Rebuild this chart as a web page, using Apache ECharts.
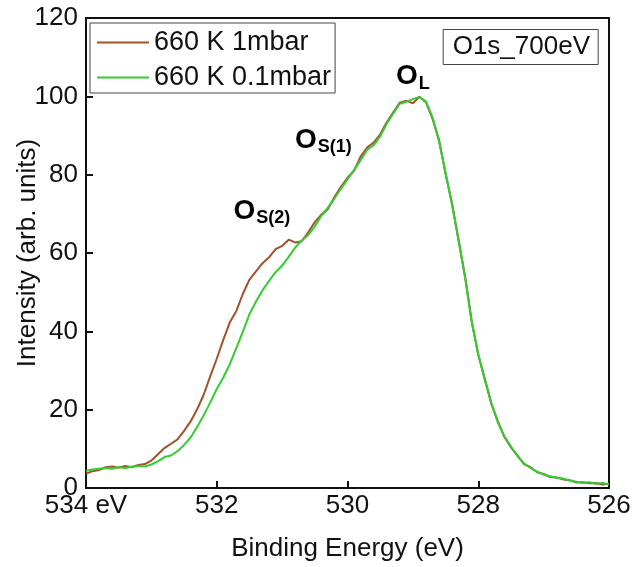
<!DOCTYPE html>
<html>
<head>
<meta charset="utf-8">
<script src="https://cdn.jsdelivr.net/npm/echarts@6/dist/echarts.min.js"></script>
<style>html,body{margin:0;padding:0;background:#fff}#c{width:633px;height:567px}</style>
</head>
<body>
<div id="c"></div>
<script>
// Binding energy (eV)
const energy = [534.0,533.9,533.8,533.7,533.6,533.5,533.4,533.3,533.2,533.1,
  533.0,532.9,532.8,532.7,532.6,532.5,532.4,532.3,532.2,532.1,
  532.0,531.9,531.8,531.7,531.6,531.5,531.4,531.3,531.2,531.1,
  531.0,530.9,530.8,530.7,530.6,530.5,530.4,530.3,530.2,530.1,
  530.0,529.9,529.8,529.7,529.6,529.5,529.4,529.3,529.2,529.1,
  529.0,528.9,528.8,528.7,528.6,528.5,528.4,528.3,528.2,528.1,
  528.0,527.9,527.8,527.7,527.6,527.5,527.4,527.3,527.2,527.1,
  527.0,526.9,526.8,526.7,526.6,526.5,526.4,526.3,526.2,526.1,526.0];

// 660 K 1mbar
const int1mbar = [3.6,4.3,4.6,5.3,5.5,5.2,5.6,5.3,5.9,6.1,
  7.0,8.6,10.2,11.3,12.4,14.6,17.0,20.1,23.8,28.5,
  33.0,37.8,42.3,45.2,49.6,53.2,55.3,57.4,58.9,61.0,
  61.8,63.4,62.7,63.0,65.3,67.9,69.8,71.2,74.3,76.9,
  79.2,81.0,84.6,86.9,88.2,90.3,93.4,95.9,98.4,98.9,
  98.2,99.9,98.5,94.3,88.9,80.2,72.6,63.0,53.9,42.6,
  34.0,27.9,21.5,17.1,13.0,10.4,8.3,6.1,5.3,4.0,
  3.6,2.8,2.7,2.2,2.0,1.4,1.5,1.2,1.3,0.9,1.1];

// 660 K 0.1mbar
const int01mbar = [4.4,4.7,4.9,5.1,4.9,5.3,5.1,5.4,5.6,5.5,
  6.0,6.8,7.9,8.3,9.4,11.0,12.9,15.6,18.6,21.8,
  25.3,28.2,31.6,35.8,39.9,44.4,47.6,50.5,52.9,55.1,
  56.8,59.0,61.4,63.2,64.6,66.8,69.5,71.6,73.9,76.4,
  78.8,81.2,83.7,86.3,87.5,89.8,93.0,95.6,98.1,98.6,
  99.3,99.8,98.7,94.6,88.5,80.5,72.2,63.4,53.5,42.3,
  34.2,27.6,21.8,16.7,13.2,10.6,8.1,6.3,5.1,4.2,
  3.4,3.0,2.6,2.4,1.9,1.6,1.3,1.5,1.1,1.3,0.9];

const seriesNames = ['660 K 1mbar', '660 K 0.1mbar'];
const xTicks = [526, 528, 530, 532, 534];
const yTicks = [0, 20, 40, 60, 80, 100, 120];

// peak annotations
const annoEnergy = [529.0, 530.37, 531.31];
const annoIntensity = [105.0, 88.9, 70.7];
const annoMain = ['O', 'O', 'O'];
const annoSub = ['L', 'S(1)', 'S(2)'];
const boxLabel = 'O1s_700eV';

const FONT = 'Liberation Sans, Arial, sans-serif';
const chart = echarts.init(document.getElementById('c'), null, {renderer: 'canvas'});

const pair = (ys) => energy.map((e, i) => [e, ys[i]]);

chart.setOption({
  animation: false,
  backgroundColor: '#fff',
  textStyle: {fontFamily: FONT},
  title: {
    text: boxLabel,
    right: 35, top: 29,
    borderColor: '#444', borderWidth: 1,
    padding: [5, 8, 5, 10],
    textStyle: {fontSize: 26, fontWeight: 'normal', color: '#111', fontFamily: FONT, lineHeight: 26}
  },
  legend: {
    orient: 'vertical',
    left: 90, top: 23,
    icon: 'rect',
    itemWidth: 52, itemHeight: 2, itemGap: 8,
    padding: [6, 4, 2, 7],
    borderColor: '#444', borderWidth: 1,
    textStyle: {fontSize: 27, color: '#111', lineHeight: 27, fontFamily: FONT},
    data: seriesNames
  },
  grid: {
    left: 86, right: 24, top: 18, bottom: 79,
    outerBoundsMode: 'none',
    show: true, borderColor: '#111', borderWidth: 2, backgroundColor: 'transparent'
  },
  xAxis: {
    type: 'value', min: xTicks[0], max: xTicks[xTicks.length - 1], interval: 2, inverse: true,
    name: 'Binding Energy (eV)', nameLocation: 'middle', nameGap: 48, nameMoveOverlap: false,
    nameTextStyle: {fontSize: 26, color: '#111', fontFamily: FONT},
    axisLine: {show: true, onZero: false, lineStyle: {color: '#111', width: 2}},
    axisTick: {show: true, inside: true, length: 7, lineStyle: {color: '#111', width: 2}},
    axisLabel: {fontSize: 26, color: '#111', margin: 5, fontFamily: FONT,
      formatter: v => (v === 534 ? '534 eV' : String(v))},
    splitLine: {show: false}
  },
  yAxis: {
    type: 'value', min: yTicks[0], max: yTicks[yTicks.length - 1], interval: 20,
    name: 'Intensity (arb. units)', nameLocation: 'middle', nameGap: 45, nameRotate: 90,
    nameMoveOverlap: false,
    nameTextStyle: {fontSize: 26, color: '#111', fontFamily: FONT},
    axisLine: {show: true, lineStyle: {color: '#111', width: 2}},
    axisTick: {show: true, inside: true, length: 7, lineStyle: {color: '#111', width: 2}},
    axisLabel: {fontSize: 26, color: '#111', margin: 8, fontFamily: FONT},
    splitLine: {show: false}
  },
  series: [
    {
      name: seriesNames[0], type: 'line', symbol: 'none', data: pair(int1mbar),
      lineStyle: {color: '#a0522d', width: 2}, itemStyle: {color: '#a0522d'}, z: 2
    },
    {
      name: seriesNames[1], type: 'line', symbol: 'none', data: pair(int01mbar),
      lineStyle: {color: '#33cc33', width: 2}, itemStyle: {color: '#33cc33'}, z: 3
    },
    {
      name: 'annotations', type: 'scatter', symbolSize: 1, silent: true,
      itemStyle: {color: 'rgba(0,0,0,0)', opacity: 1},
      data: annoEnergy.map((e, i) => ({value: [e, annoIntensity[i]], main: annoMain[i], sub: annoSub[i]})),
      label: {
        show: true, position: 'inside', color: '#000', textBorderWidth: 0, opacity: 1,
        formatter: p => '{o|' + p.data.main + '}{s|' + p.data.sub + '}',
        rich: {
          o: {fontSize: 28, fontWeight: 'bold', color: '#000', textBorderWidth: 0, fontFamily: FONT},
          s: {fontSize: 18, fontWeight: 'bold', color: '#000', textBorderWidth: 0, fontFamily: FONT, padding: [14, 0, 0, 1]}
        }
      }
    }
  ]
});
</script>
</body>
</html>
